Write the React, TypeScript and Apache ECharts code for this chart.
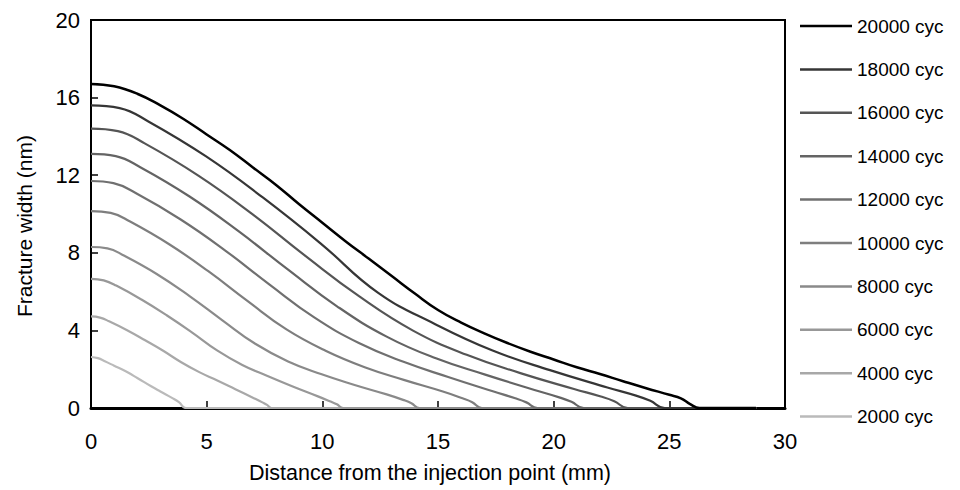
import React, { useEffect, useRef } from 'react';
import * as echarts from 'echarts';

const FONT = "'Liberation Sans', Arial, sans-serif";

const cycleNames = ['20000 cyc', '18000 cyc', '16000 cyc', '14000 cyc', '12000 cyc', '10000 cyc', '8000 cyc', '6000 cyc', '4000 cyc', '2000 cyc'];
const lineColors = ['#000000', '#363636', '#555555', '#646464', '#707070', '#7e7e7e', '#8a8a8a', '#989898', '#a8a8a8', '#bababa'];

const w20000 = [[0, 16.7], [1, 16.58], [2, 16.2], [3, 15.6], [4, 14.9], [5, 14.1], [6, 13.3], [7, 12.4], [8, 11.5], [9, 10.5], [10, 9.55], [11, 8.6], [12, 7.7], [13, 6.8], [14, 5.9], [15, 5.05], [16, 4.4], [17, 3.85], [18, 3.35], [19, 2.9], [20, 2.5], [21, 2.1], [22, 1.75], [23, 1.38], [24, 1.02], [25, 0.68], [25.5, 0.5], [25.9, 0.2], [26.3, 0], [28.75, 0]];
const w18000 = [[0, 15.6], [1.24, 15.46], [2.48, 14.77], [4.96, 12.98], [7.44, 10.84], [9.92, 8.49], [12.4, 5.95], [14.88, 4.32], [17.36, 2.96], [19.84, 1.95], [22.32, 1.06], [23.56, 0.64], [24.18, 0.37], [24.8, 0], [28.75, 0]];
const w16000 = [[0, 14.4], [1.16, 14.27], [2.32, 13.64], [4.64, 11.98], [6.96, 10.01], [9.28, 7.83], [11.6, 5.75], [13.92, 3.99], [16.24, 2.74], [18.56, 1.8], [20.88, 0.98], [22.04, 0.59], [22.62, 0.35], [23.2, 0], [28.75, 0]];
const w14000 = [[0, 13.1], [1.07, 12.98], [2.13, 12.41], [4.26, 10.9], [6.39, 9.1], [8.52, 7.13], [10.65, 5.23], [12.78, 3.68], [14.91, 2.56], [17.04, 1.72], [19.17, 0.93], [20.24, 0.55], [20.77, 0.32], [21.3, 0], [28.75, 0]];
const w12000 = [[0, 11.7], [0.97, 11.59], [1.93, 11.08], [3.86, 9.73], [5.79, 8.13], [7.72, 6.36], [9.65, 4.67], [11.58, 3.35], [13.51, 2.38], [15.44, 1.6], [17.37, 0.86], [18.34, 0.5], [18.82, 0.29], [19.3, 0], [28.75, 0]];
const w10000 = [[0, 10.15], [0.85, 10.06], [1.69, 9.61], [3.38, 8.44], [5.07, 7.05], [6.76, 5.52], [8.45, 4.05], [10.14, 2.95], [11.83, 2.1], [13.52, 1.45], [15.21, 0.85], [16.06, 0.5], [16.48, 0.3], [16.9, 0], [28.75, 0]];
const w8000 = [[0, 8.3], [0.71, 8.23], [1.42, 7.86], [2.84, 6.91], [4.26, 5.77], [5.68, 4.52], [7.1, 3.31], [8.52, 2.4], [9.94, 1.75], [11.36, 1.2], [12.78, 0.7], [13.49, 0.42], [13.85, 0.25], [14.2, 0], [28.75, 0]];
const w6000 = [[0, 6.66], [0.55, 6.58], [1.09, 6.31], [2.18, 5.59], [3.27, 4.78], [4.36, 3.9], [5.45, 2.97], [6.54, 2.22], [7.63, 1.65], [8.72, 1.11], [9.81, 0.6], [10.36, 0.33], [10.63, 0.19], [10.9, 0], [28.75, 0]];
const w4000 = [[0, 4.72], [0.39, 4.66], [0.78, 4.47], [1.56, 4.01], [2.34, 3.49], [3.12, 2.95], [3.9, 2.36], [4.68, 1.85], [5.46, 1.42], [6.24, 0.97], [7.02, 0.52], [7.41, 0.29], [7.61, 0.16], [7.8, 0], [28.75, 0]];
const w2000 = [[0, 2.63], [0.3, 2.57], [0.6, 2.41], [1.0, 2.18], [1.5, 1.89], [2.0, 1.55], [2.6, 1.12], [3.0, 0.85], [3.5, 0.52], [3.8, 0.3], [4.1, 0], [28.75, 0]];

const seriesData = [w20000, w18000, w16000, w14000, w12000, w10000, w8000, w6000, w4000, w2000];

const xTitle = 'Distance from the injection point (mm)';
const yTitle = 'Fracture width (nm)';

export default function App() {
  const ref = useRef<HTMLDivElement>(null);
  useEffect(() => {
    const chart = echarts.init(ref.current as HTMLDivElement, null, { renderer: 'svg' });
    const series = cycleNames.map((name, i) => ({
      name,
      type: 'line',
      data: seriesData[i],
      symbol: 'none',
      showSymbol: false,
      smooth: 0.45,
      z: 20 - i,
      lineStyle: { color: lineColors[i], width: i === 0 ? 2.5 : 2.2 },
      itemStyle: { color: lineColors[i] },
    })).reverse();
    chart.setOption({
      animation: false,
      backgroundColor: '#ffffff',
      textStyle: { fontFamily: FONT, color: '#000' },
      grid: {
        left: 91, top: 20, width: 694, height: 388,
        show: true, borderColor: '#000', borderWidth: 2, backgroundColor: 'transparent',
      },
      legend: {
        data: cycleNames,
        orient: 'vertical',
        left: 795,
        top: 9,
        icon: 'rect',
        itemWidth: 52,
        itemHeight: 2.5,
        itemGap: 19.4,
        selectedMode: false,
        textStyle: { fontFamily: FONT, fontSize: 19, color: '#000', lineHeight: 24 },
      },
      xAxis: {
        type: 'value',
        min: 0, max: 30, interval: 5,
        name: xTitle,
        nameLocation: 'middle',
        nameGap: 54,
        nameTextStyle: { fontFamily: FONT, fontSize: 21.5, color: '#000', padding: [0, 16, 0, 0] },
        axisLine: { show: true, onZero: false, lineStyle: { color: '#000', width: 3 } },
        axisTick: { show: true, inside: true, length: 7, lineStyle: { color: '#000', width: 1.5 } },
        axisLabel: { fontFamily: FONT, fontSize: 22, color: '#000', margin: 22 },
        splitLine: { show: false },
      },
      yAxis: {
        type: 'value',
        min: 0, max: 20, interval: 4,
        name: yTitle,
        nameLocation: 'middle',
        nameGap: 56,
        nameTextStyle: { fontFamily: FONT, fontSize: 21, color: '#000', padding: [0, 24, 0, 0] },
        axisLine: { show: true, onZero: false, lineStyle: { color: '#000', width: 2 } },
        axisTick: { show: true, inside: true, length: 7, lineStyle: { color: '#000', width: 1.5 } },
        axisLabel: { fontFamily: FONT, fontSize: 22, color: '#000', margin: 11 },
        splitLine: { show: false },
      },
      series,
    });
    return () => chart.dispose();
  }, []);
  return <div ref={ref} style={{ position: 'fixed', left: 0, top: 0, width: 960, height: 490 }} />;
}
